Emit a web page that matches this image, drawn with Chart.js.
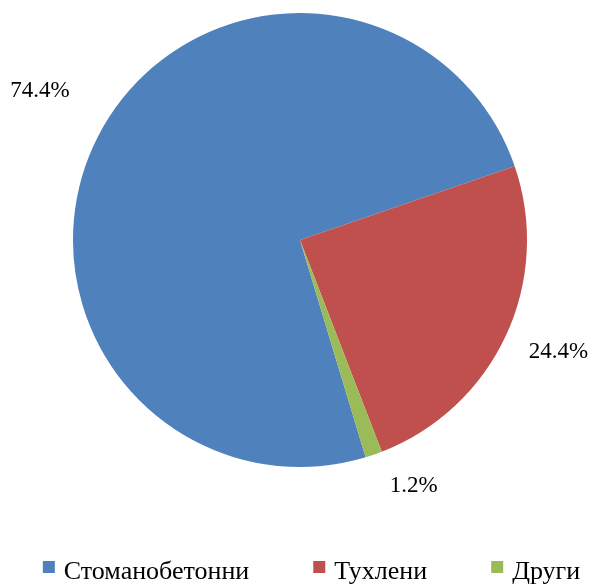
<!DOCTYPE html>
<html>
<head>
<meta charset="utf-8">
<script src="https://cdn.jsdelivr.net/npm/chart.js@4/dist/chart.umd.min.js"></script>
<style>
  html, body { margin: 0; padding: 0; background: #fff; }
  #wrap { width: 591px; height: 585px; }
</style>
</head>
<body>
<div id="wrap"><canvas id="myChart" width="591" height="585"></canvas></div>
<script>
const categories = ['Стоманобетонни', 'Тухлени', 'Други'];
const shares = [74.4, 24.4, 1.2];
const shareLabels = ['74.4%', '24.4%', '1.2%'];
const sliceColors = ['#4F81BD', '#C0504D', '#9BBB59'];

// percent labels outside the slices
const outsideLabels = {
  id: 'outsideLabels',
  afterDatasetsDraw(chart, args, opts) {
    const ctx = chart.ctx;
    const arcs = chart.getDatasetMeta(0).data;
    ctx.save();
    ctx.font = opts.font;
    ctx.fillStyle = '#000';
    ctx.textAlign = 'center';
    ctx.textBaseline = 'alphabetic';
    arcs.forEach((arc, i) => {
      const mid = (arc.startAngle + arc.endAngle) / 2 + (opts.shift[i] || 0);
      const d = arc.outerRadius + opts.offset[i];
      ctx.fillText(shareLabels[i], arc.x + Math.cos(mid) * d, arc.y + Math.sin(mid) * d + opts.capHalf);
    });
    ctx.restore();
  }
};

// legend along the bottom, wide gaps like the original
const bottomLegend = {
  id: 'bottomLegend',
  afterDraw(chart, args, opts) {
    const ctx = chart.ctx;
    ctx.save();
    ctx.font = opts.font;
    ctx.textBaseline = 'alphabetic';
    const widths = categories.map(c => opts.box + opts.textGap + ctx.measureText(c).width);
    const total = widths.reduce((a, b) => a + b, 0) + opts.gap * (categories.length - 1);
    let x = opts.centerX - total / 2;
    categories.forEach((c, i) => {
      ctx.fillStyle = sliceColors[i];
      ctx.fillRect(x, opts.boxY - opts.box / 2, opts.box, opts.box);
      ctx.fillStyle = '#000';
      ctx.fillText(c, x + opts.box + opts.textGap, opts.baseline);
      x += widths[i] + opts.gap;
    });
    ctx.restore();
  }
};

new Chart(document.getElementById('myChart'), {
  type: 'pie',
  data: {
    labels: categories,
    datasets: [{
      data: shares,
      backgroundColor: sliceColors,
      borderWidth: 0
    }]
  },
  options: {
    responsive: false,
    animation: false,
    rotation: 163.2,
    layout: {
      padding: { top: 13, bottom: 118, left: 73, right: 64 }
    },
    plugins: {
      legend: { display: false },
      tooltip: { enabled: false },
      outsideLabels: {
        font: '23px "Liberation Serif"',
        offset: [74, 54, 42],
        shift: [0.054, -0.033, -0.106],
        capHalf: 8
      },
      bottomLegend: {
        font: '26px "Liberation Serif"',
        box: 12,
        textGap: 9,
        gap: 64,
        centerX: 311.5,
        boxY: 567,
        baseline: 579
      }
    }
  },
  plugins: [outsideLabels, bottomLegend]
});
</script>
</body>
</html>
